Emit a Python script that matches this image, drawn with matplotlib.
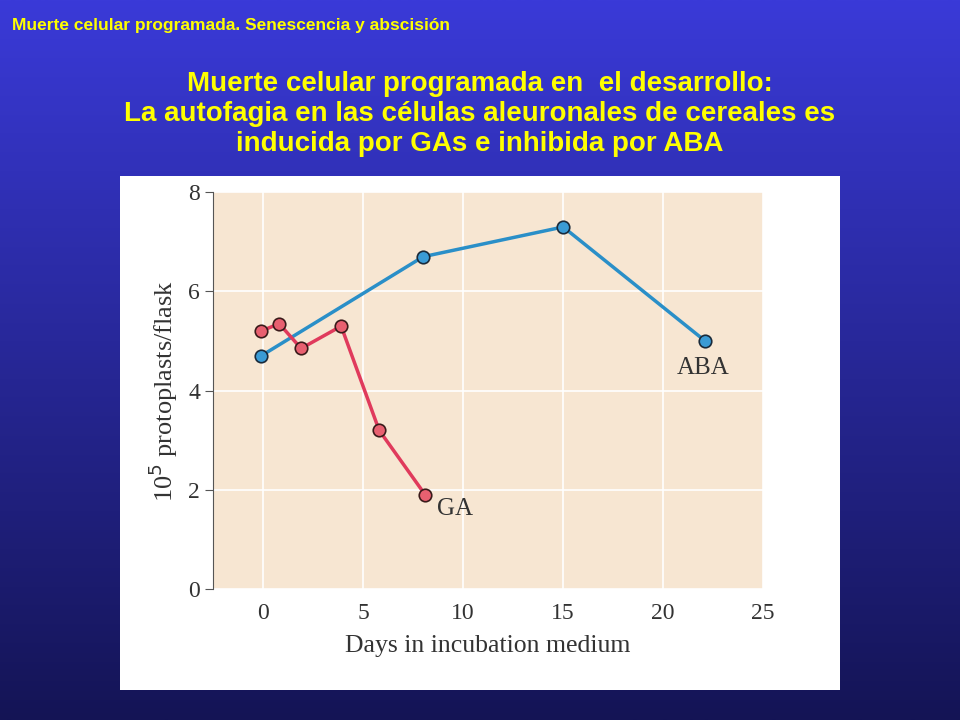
import matplotlib
matplotlib.use("Agg")
import matplotlib.pyplot as plt
import numpy as np
from matplotlib.patches import Rectangle

ga_days = [-0.1, 0.8, 1.9, 3.9, 5.8, 8.1]
ga_vals = [5.2, 5.35, 4.85, 5.3, 3.2, 1.9]
aba_days = [-0.1, 8, 15, 22.1]
aba_vals = [4.7, 6.7, 7.3, 5.0]
xticks = [0, 5, 10, 15, 20, 25]
yticks = [0, 2, 4, 6, 8]

fig = plt.figure(figsize=(9.6, 7.2), dpi=100)
bg = fig.add_axes([0, 0, 1, 1])
grad = np.linspace(0, 1, 256).reshape(-1, 1)
top = np.array([0x3a, 0x3a, 0xd8]) / 255
bot = np.array([0x14, 0x14, 0x55]) / 255
img = top[None, None, :] * (1 - grad[:, :, None]) + bot[None, None, :] * grad[:, :, None]
bg.imshow(img, aspect="auto", extent=[0, 1, 0, 1])
bg.axis("off")

fig.patches.append(Rectangle((0.125, 0.042), 0.75, 0.714, transform=fig.transFigure,
                             facecolor="white", edgecolor="none", zorder=1))

fig.text(0.012, 0.965, "Muerte celular programada. Senescencia y abscisión", color="#ffff00",
         fontsize=12.5, fontweight="bold", family="Liberation Sans", va="center")
fig.text(0.5, 0.842, "Muerte celular programada en  el desarrollo:\nLa autofagia en las células aleuronales de cereales es\ninducida por GAs e inhibida por ABA",
         color="#ffff00", fontsize=20, fontweight="bold", family="Liberation Sans",
         ha="center", va="center", linespacing=1.2)

ax = fig.add_axes([0.222, 0.182, 0.573, 0.551], zorder=2)
ax.set_facecolor("#f7e6d2")
ax.set_xlim(-2.5, 25)
ax.set_ylim(0, 8)
for x in xticks:
    ax.axvline(x, color="white", lw=1.2, zorder=0)
for y in yticks:
    ax.axhline(y, color="white", lw=1.2, zorder=0)
ax.plot(aba_days, aba_vals, "-o", color="#2a8fc8", lw=2.5, ms=9,
        mfc="#3a9bd5", mec="#1a2a3a", mew=1.2, zorder=3)
ax.plot(ga_days, ga_vals, "-o", color="#e03a5c", lw=2.5, ms=9,
        mfc="#e86070", mec="#3a1a1a", mew=1.2, zorder=4)
ax.text(22, 4.45, "ABA", fontsize=18, family="Liberation Serif", ha="center", va="center", color="#333")
ax.text(8.7, 1.62, "GA", fontsize=18, family="Liberation Serif", ha="left", va="center", color="#333")
for s in ["top", "right", "bottom"]:
    ax.spines[s].set_visible(False)
ax.spines["left"].set_color("#555")
ax.set_xticks(xticks)
ax.set_yticks(yticks)
ax.tick_params(direction="out", length=6, colors="#555", labelsize=17, labelcolor="#333")
ax.tick_params(axis="x", length=0, pad=10)
for lab in ax.get_xticklabels() + ax.get_yticklabels():
    lab.set_family("Liberation Serif")
ax.set_xlabel("Days in incubation medium", fontsize=18.5, family="Liberation Serif", color="#333", labelpad=8)
ax.set_ylabel("10$^5$ protoplasts/flask", fontsize=19, family="Liberation Serif", color="#333", labelpad=6)

fig.savefig("out.png", dpi=100)
